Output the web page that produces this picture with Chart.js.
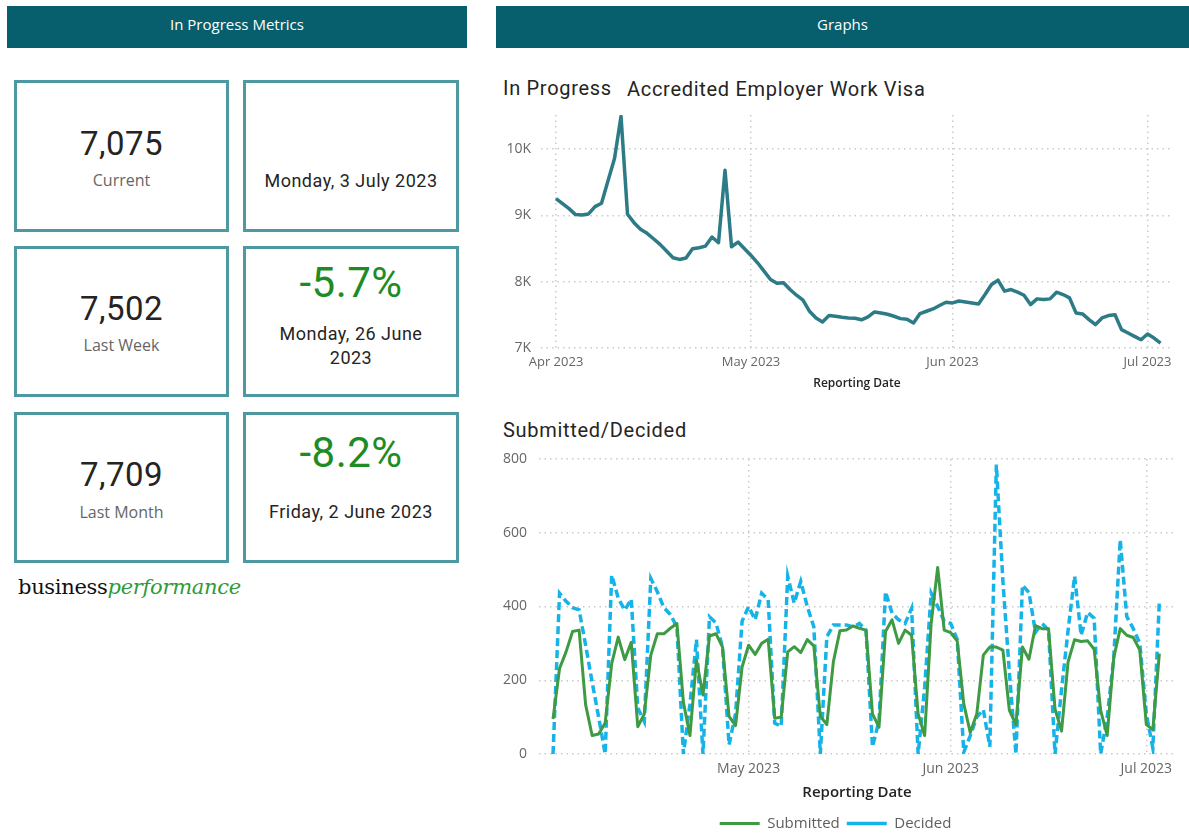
<!DOCTYPE html>
<html>
<head>
<meta charset="utf-8">
<script src="https://cdn.jsdelivr.net/npm/chart.js@4.4.1/dist/chart.umd.min.js"></script>
<style>
  html, body { margin: 0; padding: 0; background: #fff; }
  body { width: 1189px; height: 835px; overflow: hidden; position: relative; font-family: 'Open Sans', sans-serif; }
  .abs { position: absolute; }
  .hdr { background: #075e6d; color: #fff; font-size: 15px; text-align: center; line-height: 36px; height: 42px; }
  .card { border: 3px solid #4e98a1; box-sizing: border-box; }
  .big { font-family: Roboto, sans-serif; font-size: 33px; color: #252423; text-align: center; line-height: 1; letter-spacing: 0.5px; }
  .lbl { font-size: 16px; color: #666; text-align: center; line-height: 1; }
  .date { font-family: Roboto, sans-serif; font-size: 18px; color: #252423; text-align: center; line-height: 24px; letter-spacing: 0.5px; }
  .pct { font-family: Roboto, sans-serif; font-size: 42px; color: #1e8b24; text-align: center; line-height: 1; letter-spacing: 0.5px; }
  .ttl { font-family: Roboto, sans-serif; font-size: 20px; color: #252423; line-height: 1; letter-spacing: 0.7px; }
  canvas { position: absolute; }
</style>
</head>
<body>
<div class="abs hdr" style="left:7px;top:6px;width:460px;">In Progress Metrics</div>
<div class="abs hdr" style="left:496px;top:6px;width:693px;">Graphs</div>

<div class="abs card" style="left:14px;top:80px;width:215px;height:152px;"></div>
<div class="abs card" style="left:243px;top:80px;width:216px;height:152px;"></div>
<div class="abs card" style="left:14px;top:246px;width:215px;height:151px;"></div>
<div class="abs card" style="left:243px;top:246px;width:216px;height:151px;"></div>
<div class="abs card" style="left:14px;top:412px;width:215px;height:151px;"></div>
<div class="abs card" style="left:243px;top:412px;width:216px;height:151px;"></div>

<div class="abs big" style="left:14px;top:127px;width:215px;">7,075</div>
<div class="abs lbl" style="left:14px;top:172px;width:215px;">Current</div>
<div class="abs date" style="left:243px;top:169px;width:216px;">Monday, 3 July 2023</div>

<div class="abs big" style="left:14px;top:292px;width:215px;">7,502</div>
<div class="abs lbl" style="left:14px;top:337px;width:215px;">Last Week</div>
<div class="abs pct" style="left:243px;top:262px;width:216px;">-5.7%</div>
<div class="abs date" style="left:243px;top:322px;width:216px;">Monday, 26 June<br>2023</div>

<div class="abs big" style="left:14px;top:458px;width:215px;">7,709</div>
<div class="abs lbl" style="left:14px;top:504px;width:215px;">Last Month</div>
<div class="abs pct" style="left:243px;top:432px;width:216px;">-8.2%</div>
<div class="abs date" style="left:243px;top:500px;width:216px;">Friday, 2 June 2023</div>

<div class="abs" style="left:18px;top:573px;font-family:'DejaVu Serif',serif;font-size:21px;letter-spacing:-0.3px;line-height:28px;"><span style="color:#111;">business</span><span style="color:#2e9b3a;font-style:italic;">performance</span></div>

<div class="abs ttl" style="left:503px;top:78px;">In Progress</div>
<div class="abs ttl" style="left:627px;top:79px;">Accredited Employer Work Visa</div>
<div class="abs ttl" style="left:503px;top:420px;">Submitted/Decided</div>

<canvas id="topChart" width="690" height="285" style="left:496px;top:115px;"></canvas>
<canvas id="bottomChart" width="690" height="396" style="left:496px;top:445px;"></canvas>

<script>
// daily values from 1 Apr 2023 (index 0) to 3 Jul 2023 (index 93)
const startDate = '2023-04-01';

const inProgress = [
  9254, 9178, 9102, 9012, 9005, 9022, 9133, 9183, 9521, 9859,
  10494, 9017, 8890, 8790, 8729, 8648, 8563, 8462, 8361, 8336,
  8356, 8497, 8512, 8537, 8674, 8588, 9682, 8527, 8598, 8497,
  8396, 8285, 8159, 8033, 7975, 7985, 7882, 7796, 7721, 7554,
  7453, 7393, 7489, 7479, 7463, 7453, 7448, 7425, 7468, 7544,
  7529, 7509, 7479, 7443, 7433, 7378, 7519, 7554, 7589, 7640,
  7690, 7680, 7709, 7695, 7680, 7665, 7806, 7958, 8023, 7857,
  7882, 7842, 7796, 7655, 7741, 7731, 7741, 7842, 7806, 7756,
  7529, 7514, 7428, 7353, 7453, 7489, 7502, 7277, 7226, 7176,
  7125, 7211, 7150, 7075
];

const submitted = [
  95, 232, 277, 332, 336, 134, 50, 54, 84, 245,
  317, 256, 303, 74, 109, 268, 326, 326, 341, 354,
  140, 50, 255, 160, 320, 326, 290, 102, 77, 236,
  295, 270, 300, 311, 97, 100, 277, 291, 275, 310,
  293, 102, 80, 250, 334, 336, 347, 341, 336, 109,
  73, 332, 364, 300, 336, 322, 109, 50, 354, 506,
  336, 329, 306, 136, 58, 109, 268, 290, 290, 282,
  118, 80, 290, 257, 348, 340, 340, 122, 62, 250,
  310, 305, 307, 284, 118, 50, 261, 340, 322, 316,
  282, 80, 66, 272
];

const decided = [
  0, 436, 414, 397, 391, 295, 195, 100, 0, 485,
  423, 390, 420, 125, 88, 476, 440, 397, 378, 345,
  0, 135, 310, 0, 372, 355, 290, 25, 110, 360,
  400, 364, 436, 418, 84, 75, 482, 409, 468, 400,
  345, 0, 318, 350, 350, 350, 345, 354, 336, 20,
  90, 440, 382, 364, 354, 395, 0, 180, 436, 400,
  360, 354, 310, 5, 50, 100, 120, 20, 785, 470,
  220, 0, 458, 438, 330, 354, 336, 0, 175, 335,
  482, 322, 384, 368, 0, 100, 260, 581, 373, 340,
  300, 110, 16, 414
];

// month start ticks, as day offsets from startDate
const monthTickDays = [0, 30, 61, 91];
const monthTickLabels = ['Apr 2023', 'May 2023', 'Jun 2023', 'Jul 2023'];
const inProgressTicks = [7000, 8000, 9000, 10000];
const countTicks = [0, 200, 400, 600, 800];

const FONT = "'Open Sans', sans-serif";
const toPoints = arr => arr.map((v, i) => ({ x: i, y: v }));
const monthLabel = v => monthTickLabels[monthTickDays.indexOf(v)];
const setTicks = values => s => { s.ticks = values.map(v => ({ value: v })); };

const gridOpts = { color: '#c9c9c9', lineWidth: 1.5, drawTicks: false };
const borderOpts = { display: false, dash: [1.5, 4] };

// In Progress line
new Chart(document.getElementById('topChart'), {
  type: 'line',
  data: {
    datasets: [{
      label: 'In Progress',
      data: toPoints(inProgress),
      borderColor: '#2c7b86',
      borderWidth: 3.5,
      borderJoinStyle: 'round',
      pointRadius: 0,
      tension: 0
    }]
  },
  options: {
    responsive: false,
    animation: false,
    layout: { padding: { right: 13 } },
    plugins: { legend: { display: false }, tooltip: { enabled: false } },
    scales: {
      x: {
        type: 'linear',
        min: -2.31,
        max: 94.92,
        afterBuildTicks: setTicks(monthTickDays),
        afterFit: s => { s.height = 52; s.paddingLeft = 0; s.paddingRight = 0; },
        ticks: { callback: monthLabel, color: '#666', font: { family: FONT, size: 13 }, padding: 6, maxRotation: 0, autoSkip: false },
        grid: gridOpts,
        border: borderOpts,
        title: { display: true, text: 'Reporting Date', color: '#252423', font: { family: FONT, size: 12, weight: '600' }, padding: { top: 0, bottom: 9 } }
      },
      y: {
        min: 7000,
        max: 10514,
        afterBuildTicks: setTicks(inProgressTicks),
        afterFit: s => { s.width = 45; s.paddingTop = 0; s.paddingBottom = 0; },
        ticks: { callback: v => (v / 1000) + 'K', color: '#666', font: { family: FONT, size: 14 }, padding: 10 },
        grid: gridOpts,
        border: borderOpts
      }
    }
  }
});

// Submitted / Decided lines
new Chart(document.getElementById('bottomChart'), {
  type: 'line',
  data: {
    datasets: [{
      label: 'Submitted',
      data: toPoints(submitted),
      borderColor: '#3e9a43',
      borderWidth: 3,
      borderJoinStyle: 'round',
      pointRadius: 0,
      tension: 0
    }, {
      label: 'Decided',
      data: toPoints(decided),
      borderColor: '#16b3e8',
      borderWidth: 3.5,
      borderDash: [8, 4],
      pointRadius: 0,
      tension: 0
    }]
  },
  options: {
    responsive: false,
    animation: false,
    layout: { padding: { top: 14, right: 11 } },
    plugins: {
      tooltip: { enabled: false },
      legend: {
        position: 'bottom',
        labels: { usePointStyle: true, pointStyle: 'line', pointStyleWidth: 40, padding: 7, color: '#605e5c', font: { family: FONT, size: 15 } }
      }
    },
    scales: {
      x: {
        type: 'linear',
        min: -2.15,
        max: 95.4,
        afterBuildTicks: setTicks(monthTickDays.slice(1)),
        afterFit: s => { s.height = 55; s.paddingLeft = 0; s.paddingRight = 0; },
        ticks: { callback: monthLabel, color: '#666', font: { family: FONT, size: 14 }, padding: 7, maxRotation: 0, autoSkip: false },
        grid: gridOpts,
        border: borderOpts,
        title: { display: true, text: 'Reporting Date', color: '#252423', font: { family: FONT, size: 15, weight: '600' }, padding: { top: 0, bottom: 7 } }
      },
      y: {
        min: 0,
        max: 800,
        afterBuildTicks: setTicks(countTicks),
        afterFit: s => { s.width = 43; s.paddingTop = 0; s.paddingBottom = 0; },
        ticks: { color: '#666', font: { family: FONT, size: 14 }, padding: 12 },
        grid: gridOpts,
        border: borderOpts
      }
    }
  }
});
</script>
</body>
</html>
